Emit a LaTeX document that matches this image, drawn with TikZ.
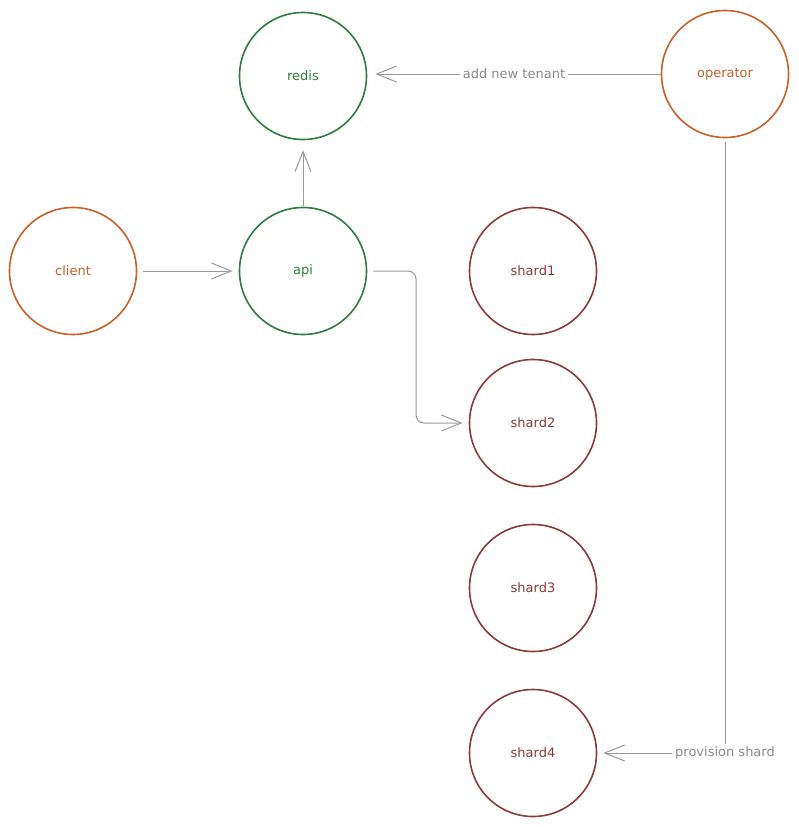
\documentclass[tikz,border=0pt]{standalone}
\usepackage{fontspec}
\setmainfont{DejaVu Sans}
\usetikzlibrary{arrows.meta}
\definecolor{org}{HTML}{C8602A}
\definecolor{grn}{HTML}{2E7D3E}
\definecolor{mar}{HTML}{8B3A3A}
\definecolor{ln}{HTML}{9A9A9A}
\begin{document}
\begin{tikzpicture}[x=1pt,y=-1pt,
  nd/.style={circle,draw,line width=1.6pt,minimum size=127pt,inner sep=0pt,font=\fontsize{13}{15}\selectfont},
  o/.style={nd,draw=org,text=org},
  g/.style={nd,draw=grn,text=grn},
  m/.style={nd,draw=mar,text=mar},
  ar/.style={draw=ln,line width=1pt,-{Straight Barb[length=20pt,width=16pt]},rounded corners=8pt},
  lb/.style={fill=white,text=ln!90!black,font=\fontsize{13}{15}\selectfont,inner sep=3pt}]
\useasboundingbox (0,0) rectangle (799,827);
\node[g] (redis) at (303,76) {redis};
\node[o] (operator) at (725,74) {operator};
\node[o] (client) at (73,271) {client};
\node[g] (api) at (303,271) {api};
\node[m] (shard1) at (533,271) {shard1};
\node[m] (shard2) at (533,423) {shard2};
\node[m] (shard3) at (533,588) {shard3};
\node[m] (shard4) at (533,753) {shard4};
\draw[ar,shorten <=6pt,shorten >=6pt] (client) -- (api);
\draw[ar,shorten <=1pt,shorten >=10pt] (api) -- (redis);
\draw[ar,shorten >=8pt] (operator.west) -- node[lb,pos=0.5]{add new tenant} (redis.east |- operator.west);
\draw[ar,shorten <=6pt,shorten >=6pt] (api.east) -- (416,271) -- (416,423) -- (shard2.west);
\draw[ar,shorten <=4pt,shorten >=6pt,rounded corners=0pt] (operator.south) -- (725,753) -- (shard4.east);
\node[lb] (pl) at (725,753) {provision shard};
\end{tikzpicture}
\end{document}
